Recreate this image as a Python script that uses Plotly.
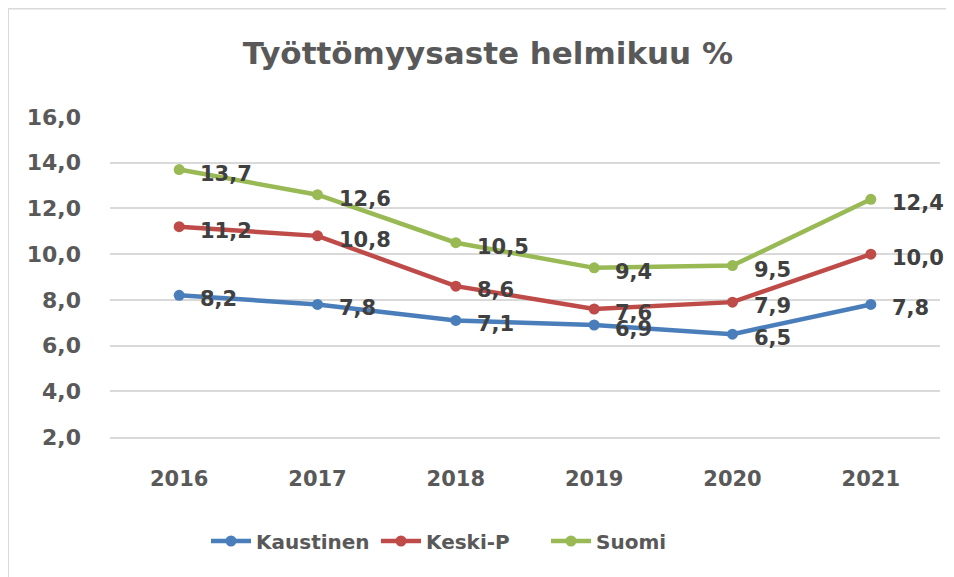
import plotly.graph_objects as go

years = ["2016", "2017", "2018", "2019", "2020", "2021"]
kaustinen = [8.2, 7.8, 7.1, 6.9, 6.5, 7.8]
keski_p = [11.2, 10.8, 8.6, 7.6, 7.9, 10.0]
suomi = [13.7, 12.6, 10.5, 9.4, 9.5, 12.4]
series_names = ["Kaustinen", "Keski-P", "Suomi"]
series_colors = ["#4A7EBB", "#BE4B48", "#98B954"]
y_ticks = [2, 4, 6, 8, 10, 12, 14, 16]

FONT = "DejaVu Sans"
L, R, T, B = 102, 22, 109, 148
W, H = 954, 577
PW, PH = W - L - R, H - T - B

fig = go.Figure()
annotations = []
for name, vals, col in zip(series_names, [kaustinen, keski_p, suomi], series_colors):
    fig.add_trace(go.Scatter(
        x=years, y=vals, name=name, mode="lines+markers",
        line=dict(color=col, width=4.5),
        marker=dict(color=col, size=11),
    ))
    for i, v in enumerate(vals):
        annotations.append(dict(
            x=i, y=v, xref="x", yref="y", text=f"{v:.1f}".replace(".", ","),
            showarrow=False, xanchor="left", yanchor="middle", xshift=19, yshift=-4,
            font=dict(family=FONT, size=21, color="#404040", weight="bold"),
        ))

px_x = lambda p: (p - L) / PW
px_y = lambda p: 1 - (p - T) / PH

fig.update_layout(
    width=W, height=H,
    margin=dict(l=L, r=R, t=T, b=B, autoexpand=False),
    paper_bgcolor="white", plot_bgcolor="white",
    separators=", ",
    title=dict(text="Työttömyysaste helmikuu %", x=0.503, xref="container", xanchor="center",
               y=0.922, yref="container", yanchor="middle",
               font=dict(family=FONT, size=31, color="#595959", weight="bold")),
    xaxis=dict(type="category", range=[-0.5, 5.5], showgrid=False,
               showline=True, linecolor="#D9D9D9", linewidth=1.5,
               ticks="", ticklabelstandoff=22,
               tickfont=dict(family=FONT, size=21, color="#595959", weight="bold")),
    yaxis=dict(range=[2, 16], tickvals=y_ticks, tickformat=".1f", showgrid=True,
               gridcolor="#D9D9D9", gridwidth=1.5, zeroline=False, showline=False,
               ticks="", ticklabelstandoff=28,
               tickfont=dict(family=FONT, size=22, color="#595959", weight="bold")),
    legend=dict(orientation="h", x=px_x(198), xanchor="left", y=px_y(533), yanchor="middle",
                font=dict(family=FONT, size=20, color="#595959", weight="bold"),
                itemwidth=40, entrywidth=115, entrywidthmode="pixels"),
    showlegend=True,
    annotations=annotations,
    shapes=[
        dict(type="line", xref="paper", yref="paper", x0=px_x(0), x1=px_x(W + 10),
             y0=px_y(0.5), y1=px_y(0.5), line=dict(color="#D9D9D9", width=2)),
        dict(type="line", xref="paper", yref="paper", x0=px_x(0), x1=px_x(0),
             y0=px_y(H + 10), y1=px_y(0.5), line=dict(color="#D9D9D9", width=2)),
    ],
)
fig.write_html("out.html")
